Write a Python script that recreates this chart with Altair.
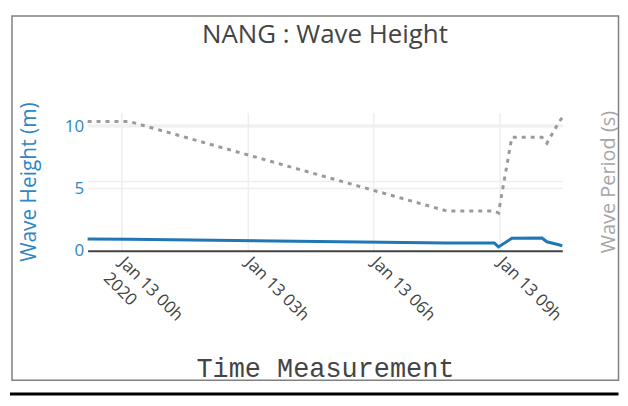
import altair as alt
import pandas as pd

# Data
times = [
    "2020-01-12T23:12:00Z", "2020-01-13T00:11:00Z", "2020-01-13T07:44:00Z",
    "2020-01-13T08:52:00Z", "2020-01-13T08:58:00Z", "2020-01-13T09:17:00Z",
    "2020-01-13T10:00:00Z", "2020-01-13T10:07:00Z", "2020-01-13T10:24:00Z",
    "2020-01-13T10:29:00Z",
]
wave_height = [0.94, 0.92, 0.63, 0.63, 0.31, 1.00, 1.02, 0.72, 0.48, 0.39]
wave_period = [10.26, 10.26, 2.37, 2.37, 2.19, 8.86, 8.86, 8.33, 10.18, 10.61]

height_ticks = [0, 5, 10]
period_ticks = [5, 10]
tick_hours = [0, 3, 6, 9]

df = pd.DataFrame({"time": times, "height": wave_height, "period": wave_period})
one = pd.DataFrame({"k": [0]})  # single row for decorations

W, H = 477, 139
BLUE = "#2f86c4"
GREY_TXT = "#444444"

x_enc = alt.X(
    "time:T",
    scale=alt.Scale(
        type="utc",
        domain=[
            alt.DateTime(year=2020, month=1, date=12, hours=23, minutes=12, utc=True),
            alt.DateTime(year=2020, month=1, date=13, hours=10, minutes=29, utc=True),
        ],
    ),
    axis=alt.Axis(
        values=[alt.DateTime(year=2020, month=1, date=13, hours=h, utc=True) for h in tick_hours],
        labelExpr="utchours(datum.value) == 0 ? ['Jan 13 00h', '2020'] : utcFormat(datum.value, '%b %d %Hh')",
        labelAngle=45,
        labelAlign="left",
        labelBaseline="middle",
        labelFont="Open Sans",
        labelFontSize=17,
        labelColor=GREY_TXT,
        labelPadding=9,
        labelLineHeight=22,
        labelOverlap=False,
        labelFlush=False,
        ticks=False,
        domainColor="#444444",
        domainWidth=2,
        grid=True,
        gridColor="#eeeeee",
        gridWidth=1.5,
        title="Time Measurement",
        titleFont="Liberation Mono",
        titleFontSize=27,
        titleFontWeight="normal",
        titleColor=GREY_TXT,
        titleBaseline="alphabetic",
        titleY=126,
    ),
)

height_line = alt.Chart(df).mark_line(color="#1f77b4", strokeWidth=3).encode(
    x=x_enc,
    y=alt.Y(
        "height:Q",
        scale=alt.Scale(domain=[0, 11.12], nice=False, zero=False),
        axis=alt.Axis(
            orient="left",
            values=height_ticks,
            labelFont="Open Sans",
            labelFontSize=17,
            labelColor=BLUE,
            labelPadding=4,
            ticks=False,
            domain=False,
            grid=True,
            gridColor="#eeeeee",
            gridWidth=1.5,
            title="Wave Height (m)",
            titleFont="Open Sans",
            titleFontSize=21,
            titleFontWeight="normal",
            titleColor=BLUE,
            titleAngle=270,
            titleAlign="center",
            titleBaseline="middle",
            titleX=-58,
            titleY=H / 2,
        ),
    ),
)

period_line = alt.Chart(df).mark_line(
    color="#9a9a9a", strokeWidth=3, strokeDash=[4, 5]
).encode(
    x=x_enc,
    y=alt.Y(
        "period:Q",
        scale=alt.Scale(domain=[-1.14, 11.05], nice=False, zero=False),
        axis=alt.Axis(
            orient="right",
            values=period_ticks,
            labels=False,
            ticks=False,
            domain=False,
            grid=True,
            gridColor="#eeeeee",
            gridWidth=1.5,
            title="Wave Period (s)",
            titleFont="Open Sans",
            titleFontSize=20,
            titleFontWeight="normal",
            titleColor="#a6a6a6",
            titleAngle=270,
            titleAlign="center",
            titleBaseline="middle",
            titleX=46,
            titleY=H / 2,
        ),
    ),
)

frame = alt.Chart(one).mark_rect(
    fillOpacity=0, stroke="#808080", strokeWidth=1.5
).encode(
    x=alt.value(-76), x2=alt.value(533.5), y=alt.value(-97), y2=alt.value(269)
)

bottom_rule = alt.Chart(one).mark_rule(color="#000000", strokeWidth=3).encode(
    x=alt.value(-78), x2=alt.value(533.5), y=alt.value(283)
)

title_text = alt.Chart(one).mark_text(
    text="NANG : Wave Height",
    font="Open Sans",
    fontSize=26,
    fontWeight="normal",
    color=GREY_TXT,
    align="center",
    baseline="alphabetic",
).encode(x=alt.value(W / 2), y=alt.value(-70))

chart = (
    alt.layer(frame, bottom_rule, title_text, height_line, period_line)
    .resolve_scale(y="independent")
    .properties(
        width=W,
        height=H,
        padding={"left": 0, "top": 6, "right": 0, "bottom": 0},
        background="white",
    )
    .configure_view(strokeWidth=0)
)

chart.save("out.html", embed_options={"renderer": "svg", "actions": False})
